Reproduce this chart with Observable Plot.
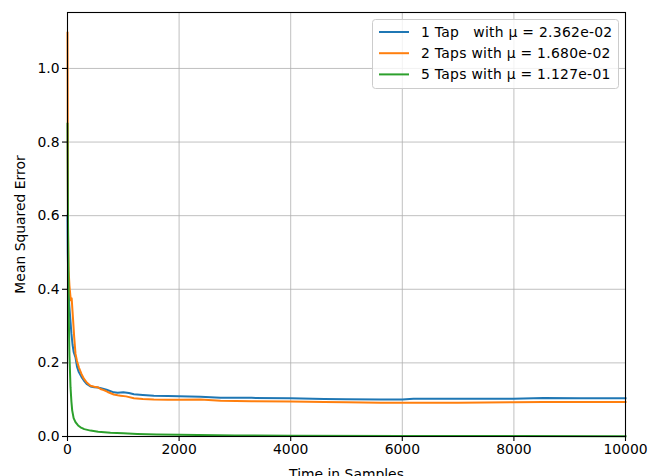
<!DOCTYPE html>
<html>
<head>
<meta charset="utf-8">
<script src="https://cdn.jsdelivr.net/npm/d3@7"></script>
<script src="https://cdn.jsdelivr.net/npm/@observablehq/plot@0.6"></script>
<style>
  html, body { margin: 0; padding: 0; background: #fff; }
  #chart svg { display: block; }
</style>
</head>
<body>
<div id="chart"></div>
<script>
// Learning curves of the adaptive filter: mean squared error over time.
const tap1Samples = [0, 5, 15, 30, 50, 70, 90, 110, 143, 170, 203, 250, 293, 350, 412, 480, 540, 600, 700, 830, 900, 1000, 1100, 1190, 1350, 1547, 1800, 1995, 2384, 2742, 3300, 3996, 4600, 5000, 5609, 6000, 6200, 7000, 7990, 8530, 9200, 10000];
const tap1Mse = [0.60, 0.50, 0.42, 0.36, 0.32, 0.28, 0.25, 0.23, 0.215, 0.19, 0.175, 0.162, 0.152, 0.142, 0.136, 0.134, 0.133, 0.131, 0.127, 0.120, 0.119, 0.1205, 0.118, 0.115, 0.113, 0.111, 0.110, 0.1096, 0.108, 0.105, 0.105, 0.104, 0.102, 0.1015, 0.1005, 0.1005, 0.1025, 0.1025, 0.1025, 0.1045, 0.104, 0.104];

const tap2Samples = [0, 3, 6, 10, 20, 35, 50, 60, 75, 90, 101, 120, 143, 170, 203, 250, 293, 350, 412, 480, 540, 591, 650, 720, 830, 900, 950, 1050, 1190, 1350, 1547, 1800, 1995, 2384, 2742, 3300, 3996, 4600, 5000, 5609, 6200, 7000, 7990, 8530, 9200, 10000];
const tap2Mse = [1.097, 0.95, 0.75, 0.55, 0.45, 0.41, 0.385, 0.37, 0.375, 0.34, 0.315, 0.27, 0.225, 0.205, 0.188, 0.17, 0.157, 0.146, 0.138, 0.135, 0.134, 0.129, 0.126, 0.121, 0.114, 0.112, 0.111, 0.109, 0.104, 0.102, 0.1005, 0.100, 0.0996, 0.1005, 0.097, 0.096, 0.095, 0.0935, 0.093, 0.0915, 0.0915, 0.092, 0.093, 0.094, 0.0935, 0.094];

const tap5Samples = [0, 8, 16, 24, 35, 54, 70, 84, 110, 143, 190, 233, 300, 412, 550, 770, 1000, 1250, 1600, 2000, 3000, 4000, 6000, 8000, 10000];
const tap5Mse = [0.85, 0.60, 0.45, 0.315, 0.22, 0.134, 0.095, 0.071, 0.050, 0.039, 0.030, 0.025, 0.020, 0.016, 0.013, 0.010, 0.0085, 0.007, 0.0055, 0.0045, 0.003, 0.0023, 0.0015, 0.0011, 0.0009];

const seriesLabels = ["1 Tap   with \u03bc = 2.362e-02", "2 Taps with \u03bc = 1.680e-02", "5 Taps with \u03bc = 1.127e-01"];
const seriesColors = ["#1f77b4", "#ff7f0e", "#2ca02c"];

const xTicks = [0, 2000, 4000, 6000, 8000, 10000];
const yTicks = [0, 0.2, 0.4, 0.6, 0.8, 1.0];

const toRows = (xs, ys) => xs.map((x, i) => ({x, y: ys[i]}));
const curves = [toRows(tap1Samples, tap1Mse), toRows(tap2Samples, tap2Mse), toRows(tap5Samples, tap5Mse)];

const gridStyle = {stroke: "#b0b0b0", strokeOpacity: 1, strokeWidth: 0.8};

const svg = Plot.plot({
  width: 649,
  height: 476,
  marginLeft: 67,
  marginRight: 24,
  marginTop: 12,
  marginBottom: 40,
  style: {fontFamily: "DejaVu Sans", fontSize: "13.9px", color: "#000", background: "#fff", overflow: "hidden"},
  x: {domain: [0, 10000]},
  y: {domain: [0, 1.152]},
  marks: [
    Plot.gridX(xTicks, gridStyle),
    Plot.gridY(yTicks, gridStyle),
    ...curves.map((rows, i) => Plot.line(rows, {x: "x", y: "y", stroke: seriesColors[i], strokeWidth: 2, strokeLinejoin: "round", strokeLinecap: "square"})),
    Plot.axisX(xTicks, {tickSize: 5, tickPadding: 3, tickFormat: d3.format("d"), strokeWidth: 1.1,
      label: "Time in Samples", labelAnchor: "center", labelArrow: "none", labelOffset: 42}),
    Plot.axisY(yTicks, {tickSize: 5, tickPadding: 3, tickFormat: d3.format(".1f"), strokeWidth: 1.1,
      label: "Mean Squared Error", labelAnchor: "center", labelArrow: "none", labelOffset: 52}),
    Plot.frame({stroke: "#000", strokeWidth: 1.1})
  ]
});

// Legend box in the upper right corner of the axes
const legend = d3.select(svg).append("g")
  .attr("font-family", "DejaVu Sans")
  .attr("font-size", 13.9)
  .attr("text-anchor", "start");
legend.append("rect")
  .attr("x", 372.5).attr("y", 19.5).attr("width", 246).attr("height", 69)
  .attr("rx", 3).attr("fill", "#fff").attr("fill-opacity", 0.8)
  .attr("stroke", "#cccccc").attr("stroke-width", 1);
seriesLabels.forEach((label, i) => {
  const cy = 32 + i * 21.2;
  legend.append("line")
    .attr("x1", 379).attr("x2", 409).attr("y1", cy).attr("y2", cy)
    .attr("stroke", seriesColors[i]).attr("stroke-width", 2);
  legend.append("text")
    .attr("x", 421).attr("y", cy).attr("dy", "0.35em")
    .attr("fill", "#000")
    .attr("text-anchor", "start")
    .attr("letter-spacing", 0.28)
    .style("white-space", "pre")
    .text(label);
});

document.getElementById("chart").appendChild(svg);
</script>
</body>
</html>
